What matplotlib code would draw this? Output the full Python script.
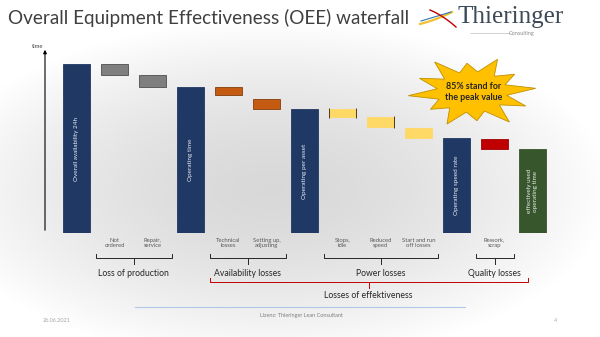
import numpy as np
import matplotlib
matplotlib.use("Agg")
import matplotlib.pyplot as plt
import matplotlib.transforms as mtrans
from matplotlib.patches import Polygon, FancyArrowPatch
from matplotlib.lines import Line2D

plt.rcParams['font.family'] = ['Lato', 'DejaVu Sans']

# --- data -------------------------------------------------------------
bar_tops    = [100, 100, 93.5, 86.4, 86.4, 79.3, 73.4, 73.4, 68.6, 62.1, 56.2, 55.6, 49.7]
bar_bottoms = [0, 93.5, 86.4, 0, 81.7, 73.4, 0, 68.6, 62.7, 56.2, 0, 49.7, 0]
bar_kinds   = ['total', 'prod', 'prod', 'total', 'avail', 'avail', 'total',
               'power', 'power', 'power', 'total', 'quality', 'final']
inside_labels = {0: "Overall availability 24h", 3: "Operating time",
                 6: "Operating per asset", 10: "Operating speed rate",
                 12: "effectively used\noperating time"}
below_labels = {1: "Not\nordered", 2: "Repair,\nservice", 4: "Technical\nlosses",
                5: "Setting up,\nadjusting", 7: "Stops,\nidle", 8: "Reduced\nspeed",
                9: "Start and run\noff losses", 11: "Rework,\nscrap"}
groups = [("Loss of production", 1, 2), ("Availability losses", 4, 5),
          ("Power losses", 7, 9), ("Quality losses", 11, 11)]
outer_group = ("Losses of effektiveness", 4, 11)

colors = {'total': '#203864', 'prod': '#7F7F7F', 'avail': '#C55A11',
          'power': '#FFD966', 'quality': '#C00000', 'final': '#38562B'}
edges = {'total': '#203864', 'prod': '#4D4D4D', 'avail': '#843C0C',
         'power': '#FFD966', 'quality': '#A00000', 'final': '#38562B'}

W, H = 600, 337
fig = plt.figure(figsize=(W / 100, H / 100), dpi=100)

def fx(x):
    return x / W

def fy(y):
    return 1 - y / H

# background gradient
bg = fig.add_axes([0, 0, 1, 1], zorder=-5)
xx, yy = np.meshgrid(np.arange(W), np.arange(H))
r = np.sqrt(((xx - 270) / 340.0) ** 2 + ((yy - 190) / 170.0) ** 2)
shade = 0.85 + 0.15 * np.clip(r, 0, 1) ** 1.6
bg.imshow(np.dstack([shade, shade, shade]), extent=[0, W, H, 0], aspect='auto')
bg.axis('off')

# title + logo
fig.text(fx(8), fy(18), "Overall Equipment Effectiveness (OEE) waterfall",
         fontsize=13.6, color='#404040', va='center', ha='left')
fig.text(fx(457), fy(17), "Thieringer", family='Liberation Serif', fontsize=18,
         color='#3B4A56', va='center', ha='left')
fig.text(fx(522), fy(33), "Consulting", fontsize=4, color='#8C8C8C', va='center', ha='center')
fig.add_artist(Line2D([fx(470), fx(510)], [fy(33), fy(33)], color='#BFBFBF', lw=0.5))
t = np.linspace(0, 1, 20)
fig.add_artist(Line2D(fx(420 + 32 * t), fy(24 - 12 * t + 4 * t * (1 - t)), color='#F2C12E', lw=1.6))
fig.add_artist(Line2D(fx(421 + 30 * t), fy(21 - 9 * t), color='#2E75B6', lw=0.8))
fig.add_artist(Line2D(fx(430 + 26 * t), fy(10 + 17 * t - 6 * t * (1 - t)), color='#C00000', lw=1.0))

# --- chart axes -------------------------------------------------------
ax_l, ax_r, ax_b, ax_t = 45, 570, 233, 48
ax = fig.add_axes([fx(ax_l), fy(ax_b), (ax_r - ax_l) / W, (ax_b - ax_t) / H])
ax.set_xlim((ax_l - 76.5) / 38, (ax_r - 76.5) / 38)
ax.set_ylim(0, 100 * (ax_b - ax_t) / 169)
ax.patch.set_alpha(0)
for s in ax.spines.values():
    s.set_visible(False)
ax.set_xticks([])
ax.set_yticks([])

xs = np.arange(len(bar_tops))
heights = np.array(bar_tops) - np.array(bar_bottoms)
ax.bar(xs, heights, bottom=bar_bottoms, width=0.71,
       color=[colors[k] for k in bar_kinds],
       edgecolor=[edges[k] for k in bar_kinds], linewidth=0.6)
# dark side marks on the first yellow bars
for i in (7, 8):
    ax.vlines([i + 0.355], bar_bottoms[i] - 0.8, bar_tops[i] + 0.8, color='#4D3A1A', lw=0.7)
ax.vlines([7 - 0.355], bar_bottoms[7] - 0.8, bar_tops[7] + 0.8, color='#4D3A1A', lw=0.7)

for i, lab in inside_labels.items():
    ax.text(i, bar_tops[i] / 2, lab, rotation=90, ha='center', va='center',
            color='#E8ECF4', fontsize=4.6, linespacing=1.1)

# vertical axis with arrow
fig.add_artist(FancyArrowPatch((fx(45), fy(233)), (fx(45), fy(47)),
                               arrowstyle='-|>', mutation_scale=5, color='black', lw=0.8))
fig.text(fx(38), fy(46), "time", fontsize=4.2, color='#404040', ha='center', va='center')

# labels below bars
tr = mtrans.blended_transform_factory(ax.transData, fig.transFigure)
for i, lab in below_labels.items():
    ax.text(i, fy(243), lab, transform=tr, ha='center', va='center', fontsize=4.2,
            color='#595959', linespacing=1.15, clip_on=False)

def bracket(x0, x1, y, color, text, ty, fs):
    xm = (x0 + x1) / 2
    d = 6 / H
    ax.add_line(Line2D([x0, x0, x1, x1], [fy(y) + d * 0.7, fy(y), fy(y), fy(y) + d * 0.7],
                       transform=tr, color=color, lw=0.7, clip_on=False))
    ax.add_line(Line2D([xm, xm], [fy(y), fy(y) - d], transform=tr, color=color,
                       lw=0.7, clip_on=False))
    ax.text(xm, fy(ty), text, transform=tr, ha='center', va='center', fontsize=fs,
            color='#262626', clip_on=False)

for name, a, b in groups:
    bracket(a - 0.5, b + 0.5, 258, '#262626', name, 273, 6.2)
name, a, b = outer_group
bracket(a - 0.5, b + 0.88, 282, '#C00000', name, 295, 6.2)

# star callout
cx, cy = 472, 92
n = 12
outer = [1.0, 0.82, 0.97, 0.78, 1.0, 0.9, 1.0, 0.8, 0.95, 0.78, 1.0, 0.92]
pts = []
for k in range(2 * n):
    ang = np.pi * k / n + 0.1
    rad = outer[k // 2] if k % 2 == 0 else 0.55
    pts.append((fx(cx + 64 * rad * np.cos(ang)), fy(cy - 37 * rad * np.sin(ang))))
fig.add_artist(Polygon(pts, closed=True, facecolor='#FFC000', edgecolor='#BF9000', lw=0.6,
                       transform=fig.transFigure))
fig.text(fx(cx + 2), fy(cy), "85% stand for\nthe peak value", fontsize=6.4, weight='bold',
         color='#262626', ha='center', va='center', linespacing=1.3)

# footer
fig.add_artist(Line2D([fx(135), fx(465)], [fy(307), fy(307)], color='#B4C7E7', lw=0.8))
fig.text(fx(301), fy(316), "Lizenz: Thieringer Lean Consultant", fontsize=4,
         color='#7F7F7F', ha='center', va='center')
fig.text(fx(57), fy(320), "26.06.2021", fontsize=4, color='#A6A6A6', ha='center', va='center')
fig.text(fx(556), fy(321), "4", fontsize=4, color='#A6A6A6', ha='center', va='center')

fig.savefig("out.png", dpi=100)
